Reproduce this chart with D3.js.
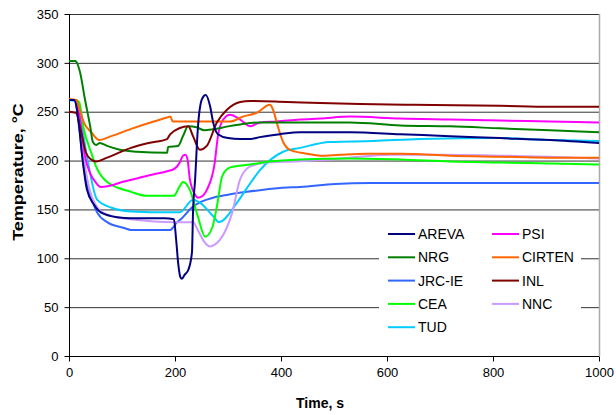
<!DOCTYPE html>
<html><head><meta charset="utf-8">
<script src="https://cdn.jsdelivr.net/npm/d3@7"></script>
<style>body{margin:0;background:#fff;} text{font-family:"Liberation Sans",Arial,sans-serif;}</style>
</head><body><svg id="c" width="616" height="415"></svg>
<script>
const xTicks = [0, 200, 400, 600, 800, 1000];
const yTicks = [0, 50, 100, 150, 200, 250, 300, 350];
const seriesNames = ["AREVA", "NRG", "JRC-IE", "CEA", "TUD", "PSI", "CIRTEN", "INL", "NNC"];
const seriesColors = ["#000080", "#008000", "#3366FF", "#00FF00", "#00CCFF", "#FF00FF", "#FF6600", "#800000", "#CC99FF"];

const arevaT = [0, 10, 15, 20, 25, 34, 47, 60, 91, 117, 150, 180, 198, 202, 206, 210, 213, 218, 225, 232, 234, 238, 243, 251, 258, 266, 272, 281, 300, 323, 342, 360, 398, 436, 479, 530, 625, 719, 813, 908, 1000];
const arevaV = [262, 262, 252, 230, 204, 170, 155, 147, 142, 141, 141, 141, 140, 120, 95, 81, 79, 83, 88, 106, 147, 181, 232, 263, 267, 256, 239, 227, 223, 222, 222, 224, 227, 229, 229, 229, 227, 225, 223, 221, 218];

const nrgT = [0, 12, 15, 21, 30, 40, 45, 51, 58, 72, 96, 128, 185, 187, 206, 215, 225, 241, 255, 272, 300, 323, 360, 436, 530, 625, 719, 813, 908, 1000];
const nrgV = [302, 302, 300, 290, 263, 235, 219, 216, 218, 215, 211, 209, 208, 214, 215, 225, 235, 234, 231, 232, 235, 237, 239, 239, 239, 236, 235, 233, 231, 229];

const jrcT = [0, 10, 15, 20, 25, 34, 45, 53, 72, 104, 117, 191, 204, 211, 234, 250, 272, 300, 336, 398, 436, 502, 568, 700, 900, 1000];
const jrcV = [262, 262, 253, 232, 205, 175, 157, 147, 137, 131, 129, 129, 137, 140, 153, 158, 162, 165, 168, 172, 173, 176, 177, 177, 177, 177];

const ceaT = [0, 12, 19, 28, 42, 51, 72, 117, 147, 198, 208, 215, 228, 243, 257, 270, 279, 289, 298, 304, 342, 379, 436, 530, 625, 719, 813, 908, 1000];
const ceaV = [262, 262, 260, 232, 208, 194, 178, 168, 164, 164, 173, 178, 170, 143, 122, 131, 153, 184, 191, 193, 196, 199, 201, 202, 201, 199, 198, 197, 196];

const tudT = [0, 12, 23, 34, 53, 79, 117, 192, 209, 234, 247, 272, 283, 317, 336, 360, 404, 436, 492, 574, 662, 813, 908, 1000];
const tudV = [262, 261, 239, 204, 160, 152, 148, 147, 147, 160, 157, 143, 137, 157, 172, 190, 209, 213, 219, 220, 222, 223, 221, 220];

const psiT = [0, 10, 15, 20, 25, 30, 40, 50, 60, 75, 100, 130, 160, 185, 200, 209, 215, 220, 224, 228, 238, 243, 250, 260, 275, 281, 291, 304, 323, 342, 360, 392, 436, 474, 530, 625, 719, 813, 908, 1000];
const psiV = [262, 262, 257, 245, 225, 205, 187, 178, 173, 174, 178, 182, 186, 189, 192, 198, 205, 206, 200, 181, 165, 162, 163, 170, 198, 225, 242, 247, 242, 235, 239, 240, 242, 243, 245, 243, 242, 241, 240, 239];

const cirtenT = [0, 14, 20, 28, 42, 57, 80, 120, 160, 185, 191, 196, 215, 260, 304, 328, 355, 379, 385, 394, 404, 417, 449, 474, 511, 562, 625, 719, 813, 908, 1000];
const cirtenV = [263, 262, 252, 239, 229, 221, 225, 233, 240, 244, 245, 240, 240, 240, 240, 245, 249, 257, 252, 235, 219, 211, 207, 205, 206, 207, 207, 205, 204, 203, 203];

const inlT = [0, 13, 23, 32, 42, 51, 72, 117, 150, 185, 191, 225, 234, 247, 260, 279, 298, 323, 342, 411, 474, 549, 649, 813, 908, 1000];
const inlV = [250, 249, 229, 208, 201, 199, 203, 213, 218, 222, 227, 235, 225, 211, 215, 239, 252, 260, 261, 260, 259, 258, 257, 256, 255, 255];

const nncT = [0, 12, 17, 23, 30, 40, 50, 60, 90, 117, 198, 234, 243, 255, 266, 275, 285, 308, 323, 342, 374, 423, 492, 530, 606, 700, 813, 908, 1000];
const nncV = [262, 262, 250, 225, 195, 168, 155, 148, 142, 140, 137, 137, 129, 117, 112, 114, 119, 147, 181, 194, 198, 199, 201, 203, 206, 206, 205, 204, 202];

const seriesT = [arevaT, nrgT, jrcT, ceaT, tudT, psiT, cirtenT, inlT, nncT];
const seriesV = [arevaV, nrgV, jrcV, ceaV, tudV, psiV, cirtenV, inlV, nncV];

const svg = d3.select("#c");
const L = 69, R = 599, T = 14, B = 356;
const x = d3.scaleLinear().domain([0, 1000]).range([L, R]);
const y = d3.scaleLinear().domain([0, 350]).range([B, T]);

// gridlines
svg.append("g").selectAll("line").data(yTicks.filter(d => d > 0)).join("line")
  .attr("x1", L).attr("x2", R).attr("y1", d => y(d) + 0.5).attr("y2", d => y(d) + 0.5)
  .attr("stroke", "#333").attr("stroke-width", 1);
// right border
svg.append("line").attr("x1", R + 0.5).attr("x2", R + 0.5).attr("y1", T).attr("y2", B)
  .attr("stroke", "#aaa").attr("stroke-width", 1.5);

// axes
const xAxis = d3.axisBottom(x).tickValues(xTicks).tickSize(5).tickPadding(6).tickFormat(d3.format("d"));
const gx = svg.append("g").attr("transform", `translate(0,${B + 0.5})`).call(xAxis);
const yAxis = d3.axisLeft(y).tickValues(yTicks).tickSize(5).tickPadding(6);
const gy = svg.append("g").attr("transform", `translate(${L + 0.5},0)`).call(yAxis);
[gx, gy].forEach(g => {
  g.select(".domain").attr("stroke", "#000");
  g.selectAll(".tick line").attr("stroke", "#000");
  g.selectAll(".tick text").attr("font-size", 13).attr("fill", "#000")
    .attr("font-family", "Liberation Sans, Arial, sans-serif");
});
gx.select(".domain").attr("d", `M${L},0H${R}`);
gy.select(".domain").attr("d", `M0,${B}V${T}`);

// lines
const line = d3.line().x(d => x(d[0])).y(d => y(d[1])).curve(d3.curveMonotoneX);
const order = [2, 4, 8, 3, 5, 6, 1, 7, 0];
order.forEach(i => {
  const pts = seriesT[i].map((t, k) => [t, seriesV[i][k]]);
  svg.append("path").datum(pts).attr("d", line).attr("fill", "none")
    .attr("stroke", seriesColors[i]).attr("stroke-width", 2).attr("stroke-linejoin", "round");
});

// legend
const lg = svg.append("g");
lg.append("rect").attr("x", 379).attr("y", 222).attr("width", 202).attr("height", 118).attr("fill", "#fff");
seriesNames.forEach((n, i) => {
  const col = i < 5 ? 0 : 1, row = i < 5 ? i : i - 5;
  const lx = col === 0 ? 388 : 492, ly = 234 + row * 23.3;
  lg.append("line").attr("x1", lx).attr("x2", lx + 27).attr("y1", ly).attr("y2", ly)
    .attr("stroke", seriesColors[i]).attr("stroke-width", 2);
  lg.append("text").attr("x", lx + 30).attr("y", ly).attr("dy", "0.36em")
    .attr("font-size", 14).text(n);
});

// titles
svg.append("text").attr("x", 320).attr("y", 408).attr("text-anchor", "middle")
  .attr("font-size", 14).attr("font-weight", "bold").text("Time, s");
svg.append("text").attr("transform", "translate(23,172) rotate(-90) scale(1.2,1)").attr("text-anchor", "middle")
  .attr("font-size", 15).attr("font-weight", "bold").text("Temperature, °C");
</script></body></html>
